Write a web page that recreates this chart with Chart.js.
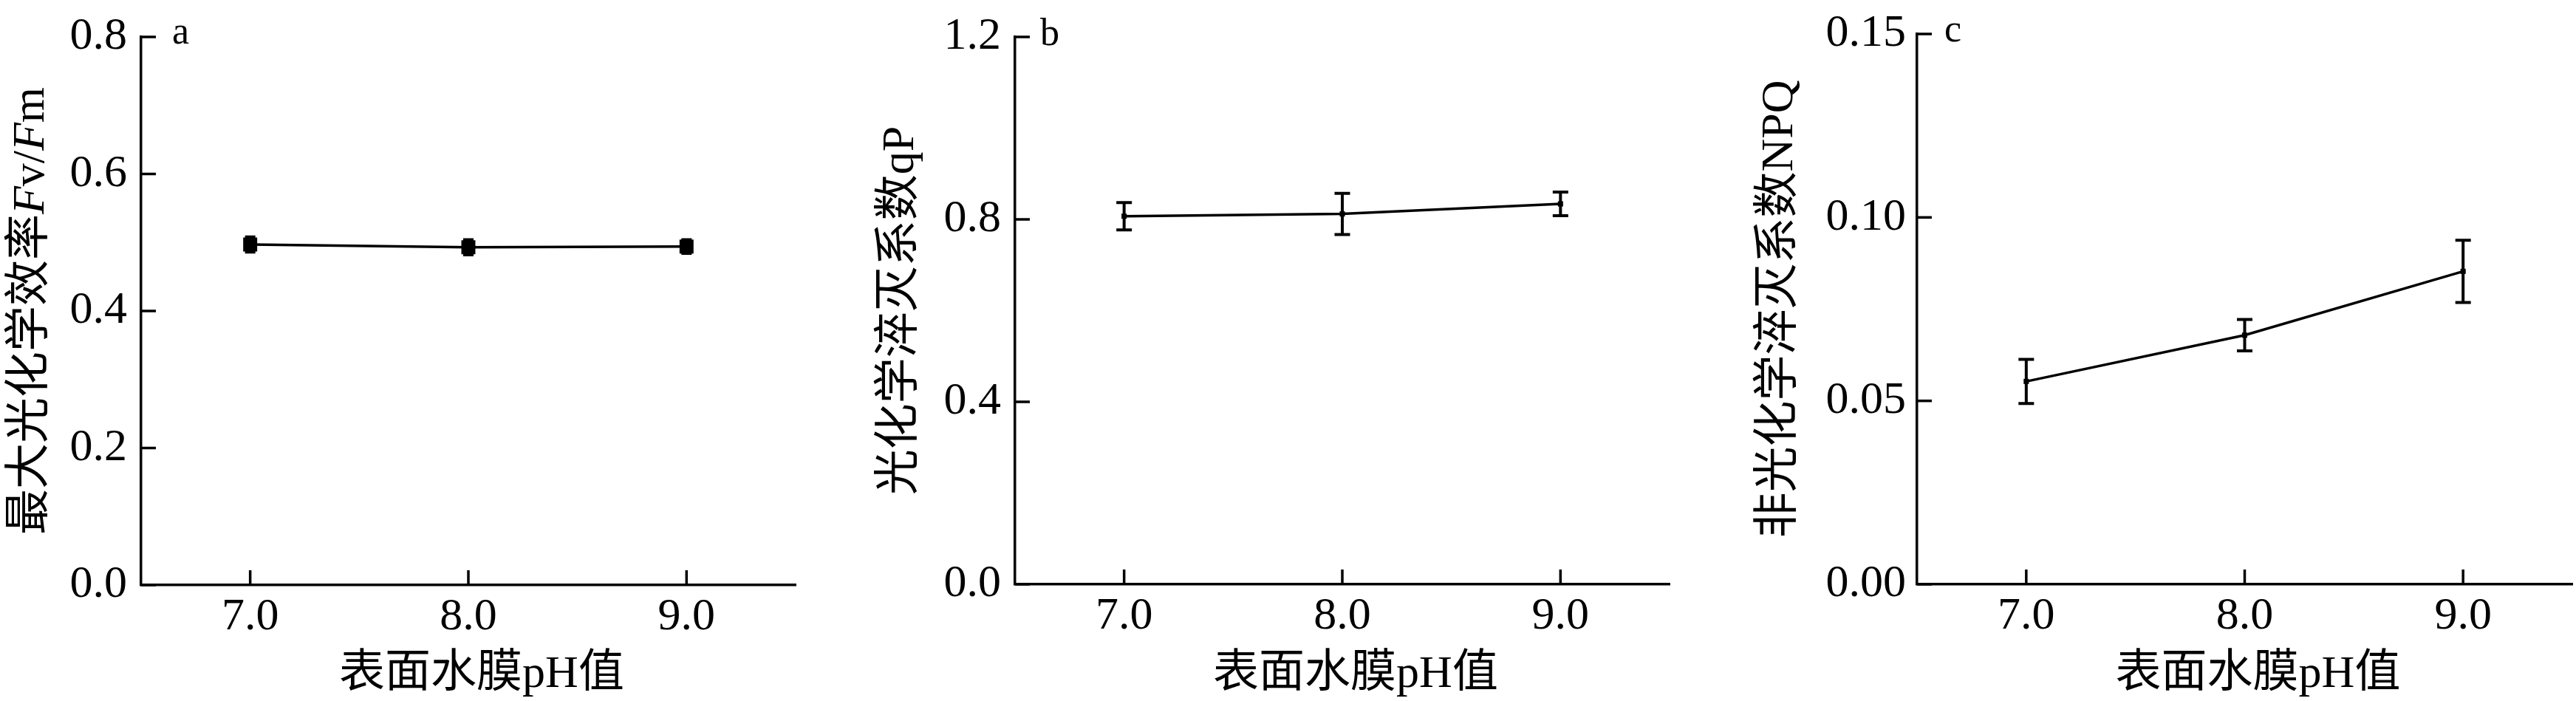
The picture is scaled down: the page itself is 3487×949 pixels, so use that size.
<!DOCTYPE html>
<html><head><meta charset="utf-8">
<script src="https://cdn.jsdelivr.net/npm/chart.js@4.4.0/dist/chart.umd.min.js"></script>
<style>
html,body{margin:0;padding:0;background:#fff;}
body{width:3487px;height:949px;position:relative;overflow:hidden;}
canvas{position:absolute;top:0;}
</style></head><body>
<canvas id="ca" width="1130" height="949" style="left:0px"></canvas>
<canvas id="cb" width="1170" height="949" style="left:1130px"></canvas>
<canvas id="cc" width="1187" height="949" style="left:2300px"></canvas>
<script>
// ---- data ----
const phValues = [7, 8, 9];
const phTickLabels = ['7.0', '8.0', '9.0'];
const xTitle = '表面水膜pH值';

const fvfm = [0.497, 0.493, 0.494];
const fvfmErr = [0.011, 0.011, 0.010];
const fvfmTicks = [0, 0.2, 0.4, 0.6, 0.8];

const qp = [0.807, 0.812, 0.834];
const qpErr = [0.030, 0.045, 0.026];
const qpTicks = [0, 0.4, 0.8, 1.2];

const npq = [0.0553, 0.0679, 0.0853];
const npqErr = [0.0060, 0.0043, 0.0085];
const npqTicks = [0, 0.05, 0.10, 0.15];

const FONT = '"Liberation Serif", "Noto Sans CJK SC", serif';
Chart.defaults.font.family = FONT;
Chart.defaults.color = '#000';

const decor = {
  id: 'decor',
  afterDatasetsDraw(chart, args, o) {
    const ctx = chart.ctx, ca = chart.chartArea, xs = chart.scales.x, ys = chart.scales.y;
    ctx.save();
    ctx.strokeStyle = '#000'; ctx.fillStyle = '#000';
    ctx.lineWidth = 3.5; ctx.lineCap = 'butt';
    // inward tick marks
    ys.ticks.forEach(t => {
      const y = ys.getPixelForValue(t.value);
      ctx.beginPath(); ctx.moveTo(ca.left, y); ctx.lineTo(ca.left + 20, y); ctx.stroke();
    });
    xs.ticks.forEach(t => {
      const x = xs.getPixelForValue(t.value);
      ctx.beginPath(); ctx.moveTo(x, ca.bottom); ctx.lineTo(x, ca.bottom - 20); ctx.stroke();
    });
    // error bars
    ctx.lineWidth = 4;
    o.values.forEach((v, i) => {
      const x = xs.getPixelForValue(phValues[i]);
      const y1 = ys.getPixelForValue(v - o.errs[i]);
      const y2 = ys.getPixelForValue(v + o.errs[i]);
      ctx.beginPath();
      ctx.moveTo(x, y1); ctx.lineTo(x, y2);
      ctx.moveTo(x - o.cap / 2, y1); ctx.lineTo(x + o.cap / 2, y1);
      ctx.moveTo(x - o.cap / 2, y2); ctx.lineTo(x + o.cap / 2, y2);
      ctx.stroke();
    });
    // panel letter
    ctx.font = '52px ' + FONT;
    ctx.textAlign = 'left'; ctx.textBaseline = 'alphabetic';
    ctx.fillText(o.letter, ca.left + o.letterDx, ca.top + o.letterDy);
    // x title
    ctx.font = '62px ' + FONT;
    ctx.textAlign = 'center';
    ctx.fillText(xTitle, (ca.left + ca.right) / 2 + 18, 930);
    // y title (rich segments)
    ctx.textAlign = 'left';
    let total = 0;
    o.yTitle.forEach(s => { ctx.font = (s.i ? 'italic ' : '') + '62px ' + FONT; total += ctx.measureText(s.t).width; });
    ctx.translate(o.yTitleX, (ca.top + ca.bottom) / 2);
    ctx.rotate(-Math.PI / 2);
    let px = -total / 2;
    o.yTitle.forEach(s => {
      ctx.font = (s.i ? 'italic ' : '') + '62px ' + FONT;
      ctx.fillText(s.t, px, 0);
      px += ctx.measureText(s.t).width;
    });
    ctx.restore();
  }
};

function makeChart(id, p) {
  const W = document.getElementById(id).width;
  return new Chart(document.getElementById(id), {
    type: 'line',
    data: {
      datasets: [{
        data: phValues.map((x, i) => ({ x: x, y: p.values[i] })),
        borderColor: '#000', backgroundColor: '#000', borderWidth: 3.5,
        pointStyle: 'rect', pointRadius: p.pointRadius, pointHoverRadius: p.pointRadius,
        pointBorderWidth: 0, tension: 0, fill: false
      }]
    },
    options: {
      responsive: false, animation: false, devicePixelRatio: 1,
      layout: { padding: { left: 0, top: p.top, right: W - p.right, bottom: 0 } },
      plugins: { legend: { display: false }, tooltip: { enabled: false }, decor: p },
      scales: {
        x: {
          type: 'linear', min: 6.5, max: 9.5,
          afterBuildTicks: s => { s.ticks = phValues.map(v => ({ value: v })); },
          afterFit: s => { s.height = 949 - p.bottom; },
          grid: { display: false, drawTicks: false },
          border: { display: true, color: '#000', width: 3.5 },
          ticks: { padding: 13, font: { size: 62, lineHeight: 1 }, color: '#000',
                   callback: v => phTickLabels[phValues.indexOf(v)] }
        },
        y: {
          type: 'linear', min: 0, max: p.yTicks[p.yTicks.length - 1],
          afterBuildTicks: s => { s.ticks = p.yTicks.map(v => ({ value: v })); },
          afterFit: s => { s.width = p.left; },
          grid: { display: false, drawTicks: false },
          border: { display: true, color: '#000', width: 3.5 },
          ticks: { padding: p.labelPad, font: { size: 62, lineHeight: 1 }, color: '#000',
                   callback: v => v.toFixed(p.decimals) }
        }
      }
    },
    plugins: [decor]
  });
}

makeChart('ca', {
  values: fvfm, errs: fvfmErr, yTicks: fvfmTicks, decimals: 1,
  left: 191, right: 1077, top: 49, bottom: 792, labelPad: 19,
  pointRadius: 13.4, cap: 14, letter: 'a', letterDx: 42, letterDy: 9,
  yTitleX: 59,
  yTitle: [{ t: '最大光化学效率' }, { t: 'F', i: true }, { t: 'v/' }, { t: 'F', i: true }, { t: 'm' }]
});
makeChart('cb', {
  values: qp, errs: qpErr, yTicks: qpTicks, decimals: 1,
  left: 244, right: 1130, top: 42, bottom: 791, labelPad: 19,
  pointRadius: 5, cap: 21, letter: 'b', letterDx: 34, letterDy: 11,
  yTitleX: 106,
  yTitle: [{ t: '光化学淬灭系数qP' }]
});
makeChart('cc', {
  values: npq, errs: npqErr, yTicks: npqTicks, decimals: 2,
  left: 295, right: 1182, top: 42, bottom: 791, labelPad: 15,
  pointRadius: 5, cap: 21, letter: 'c', letterDx: 37, letterDy: 10,
  yTitleX: 126,
  yTitle: [{ t: '非光化学淬灭系数NPQ' }]
});
</script>
</body></html>
